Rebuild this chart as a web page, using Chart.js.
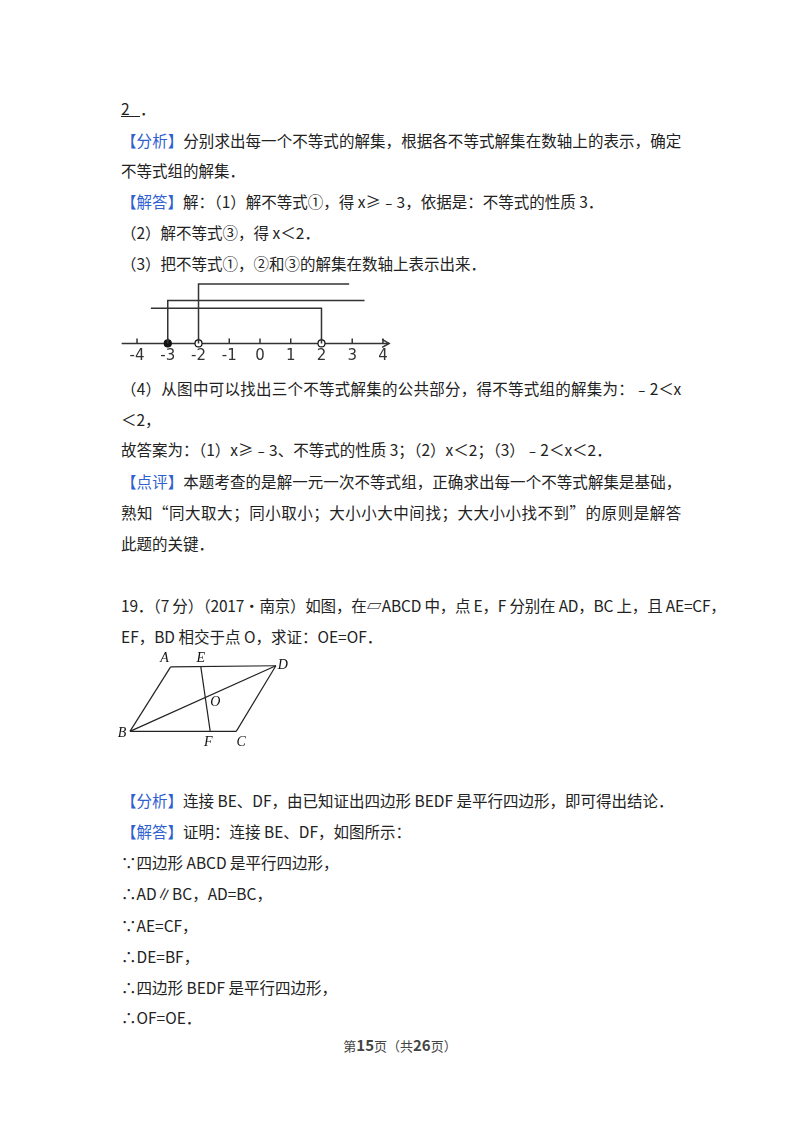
<!DOCTYPE html>
<html>
<head>
<meta charset="utf-8">
<script src="https://cdn.jsdelivr.net/npm/chart.js@4"></script>
<style>
  body { margin: 0; background: #fff; width: 800px; height: 1132px; position: relative;
         font-family: "Noto Sans CJK SC", "Noto Sans", sans-serif; color: #222; }
  .ln { position: absolute; left: 121px; font-size: 15.5px; line-height: 22px; white-space: nowrap; }
  .full { width: 560px; text-align: justify; text-align-last: justify; letter-spacing: -0.2px; }
  .tag { color: #2f5fd0; }
  .foot { position: absolute; top: 1034px; left: 0; width: 800px; text-align: center; font-size: 13px; color: #444; }
  .foot b { font-size: 15px; }
  #numline { position: absolute; left: 106px; top: 266px; }
  #geo { position: absolute; left: 106px; top: 641px; }
</style>
</head>
<body>
<div class="ln" style="top:97px"><u>2&nbsp;&nbsp;&nbsp;</u>．</div>
<div class="ln full" style="top:129px"><span class="tag">【分析】</span>分别求出每一个不等式的解集，根据各不等式解集在数轴上的表示，确定</div>
<div class="ln" style="top:159px">不等式组的解集．</div>
<div class="ln" style="top:190px"><span class="tag">【解答】</span>解：（1）解不等式①，得 x≥﹣3，依据是：不等式的性质 3．</div>
<div class="ln" style="top:221px">（2）解不等式③，得 x＜2．</div>
<div class="ln" style="top:252px">（3）把不等式①，②和③的解集在数轴上表示出来．</div>
<div class="ln full" style="top:377px">（4）从图中可以找出三个不等式解集的公共部分，得不等式组的解集为：﹣2＜x</div>
<div class="ln" style="top:408px">＜2，</div>
<div class="ln" style="top:438px">故答案为：（1）x≥﹣3、不等式的性质 3；（2）x＜2；（3）﹣2＜x＜2．</div>
<div class="ln full" style="top:470px"><span class="tag">【点评】</span>本题考查的是解一元一次不等式组，正确求出每一个不等式解集是基础，</div>
<div class="ln full" style="top:501px">熟知“同大取大；同小取小；大小小大中间找；大大小小找不到”的原则是解答</div>
<div class="ln" style="top:532px">此题的关键．</div>
<div class="ln full" style="top:594px">19．（7 分）（2017•南京）如图，在▱ABCD 中，点 E，F 分别在 AD，BC 上，且 AE=CF，</div>
<div class="ln" style="top:625px">EF，BD 相交于点 O，求证：OE=OF．</div>
<div class="ln" style="top:789px"><span class="tag">【分析】</span>连接 BE、DF，由已知证出四边形 BEDF 是平行四边形，即可得出结论．</div>
<div class="ln" style="top:820px"><span class="tag">【解答】</span>证明：连接 BE、DF，如图所示：</div>
<div class="ln" style="top:851px">∵四边形 ABCD 是平行四边形，</div>
<div class="ln" style="top:882px">∴AD∥BC，AD=BC，</div>
<div class="ln" style="top:914px">∵AE=CF，</div>
<div class="ln" style="top:945px">∴DE=BF，</div>
<div class="ln" style="top:976px">∴四边形 BEDF 是平行四边形，</div>
<div class="ln" style="top:1006px">∴OF=OE．</div>
<div class="foot">第<b>15</b>页（共<b>26</b>页）</div>

<div id="numline" style="width:308px;height:108px"><canvas id="c1"></canvas></div>
<div id="geo" style="width:198px;height:113px"><canvas id="c2"></canvas></div>

<script>
// number line data
const tickValues = [-4, -3, -2, -1, 0, 1, 2, 3, 4];
const boundaries = [-3, -2, 2];
const closedEnds = [true, false, false];
const lineHeights = [44, 61, 36];
const lineEnds = [3.4, 2.9, -3.55];
const axisRange = [-4.5, 4.2];

// parallelogram data (x right, y down)
const pointNames = ["A", "E", "D", "B", "F", "C"];
const pointX = [62, 91, 163, 23, 100, 125];
const pointY = [24, 24, 23, 84, 84, 84];
const segments = [["A", "D"], ["D", "C"], ["C", "B"], ["B", "A"], ["B", "D"], ["E", "F"]];

const ink = "#333";

const numDatasets = boundaries.map((b, i) => ({
  data: [{ x: b, y: 0 }, { x: b, y: lineHeights[i] }, { x: lineEnds[i], y: lineHeights[i] }],
  showLine: true, borderColor: ink, borderWidth: 1.5, pointRadius: 0,
}));
numDatasets.push({
  data: boundaries.map((b) => ({ x: b, y: 0 })),
  showLine: false, pointRadius: 3.5, borderWidth: 1.2, borderColor: "#111",
  pointBackgroundColor: closedEnds.map((c) => (c ? "#111" : "#fff")),
});

const axisPlugin = {
  id: "axis",
  beforeDatasetsDraw(chart) {
    const { ctx, scales: { x, y } } = chart;
    const y0 = y.getPixelForValue(0);
    const x0 = x.getPixelForValue(axisRange[0]);
    const x1 = x.getPixelForValue(axisRange[1]);
    ctx.save();
    ctx.strokeStyle = ink; ctx.fillStyle = ink; ctx.lineWidth = 1.5;
    ctx.beginPath(); ctx.moveTo(x0, y0); ctx.lineTo(x1, y0); ctx.stroke();
    ctx.beginPath(); ctx.moveTo(x1 - 7, y0 - 4); ctx.lineTo(x1, y0); ctx.lineTo(x1 - 7, y0 + 4); ctx.stroke();
    ctx.font = "15px 'DejaVu Sans', sans-serif";
    ctx.textAlign = "center"; ctx.textBaseline = "top";
    tickValues.forEach((t) => {
      const px = x.getPixelForValue(t);
      ctx.beginPath(); ctx.moveTo(px, y0); ctx.lineTo(px, y0 - 5); ctx.stroke();
      ctx.fillText(String(t), px, y0 + 5);
    });
    ctx.restore();
  },
};

new Chart(document.getElementById("c1"), {
  type: "scatter",
  data: { datasets: numDatasets },
  options: {
    responsive: true, maintainAspectRatio: false, animation: false,
    layout: { padding: 0 },
    plugins: { legend: { display: false }, tooltip: { enabled: false } },
    scales: {
      x: { type: "linear", display: false, min: -4.84, max: 4.84 },
      y: { type: "linear", display: false, min: -26, max: 74 },
    },
  },
  plugins: [axisPlugin],
});

const pt = (n) => {
  const i = pointNames.indexOf(n);
  return { x: pointX[i], y: pointY[i] };
};
// O = intersection of BD and EF
function intersect(p1, p2, p3, p4) {
  const d = (p1.x - p2.x) * (p3.y - p4.y) - (p1.y - p2.y) * (p3.x - p4.x);
  const a = p1.x * p2.y - p1.y * p2.x, b = p3.x * p4.y - p3.y * p4.x;
  return { x: (a * (p3.x - p4.x) - (p1.x - p2.x) * b) / d, y: (a * (p3.y - p4.y) - (p1.y - p2.y) * b) / d };
}
const O = intersect(pt("B"), pt("D"), pt("E"), pt("F"));

const labelOffsets = { A: [-6, -9], E: [0, -9], D: [7, 0], B: [-8, 2], F: [-2, 11], C: [5, 11] };
const labelPlugin = {
  id: "labels",
  afterDatasetsDraw(chart) {
    const { ctx, scales: { x, y } } = chart;
    ctx.save();
    ctx.fillStyle = "#111";
    ctx.font = "italic 14px 'Liberation Serif', serif";
    ctx.textAlign = "center"; ctx.textBaseline = "middle";
    pointNames.forEach((n) => {
      const p = pt(n), o = labelOffsets[n];
      ctx.fillText(n, x.getPixelForValue(p.x) + o[0], y.getPixelForValue(p.y) + o[1]);
    });
    ctx.fillText("O", x.getPixelForValue(O.x) + 10, y.getPixelForValue(O.y) + 5);
    ctx.restore();
  },
};

new Chart(document.getElementById("c2"), {
  type: "scatter",
  data: {
    datasets: segments.map(([a, b]) => ({
      data: [pt(a), pt(b)], showLine: true, borderColor: "#222", borderWidth: 1.2, pointRadius: 0,
    })),
  },
  options: {
    responsive: true, maintainAspectRatio: false, animation: false,
    layout: { padding: 0 },
    plugins: { legend: { display: false }, tooltip: { enabled: false } },
    scales: {
      x: { type: "linear", display: false, min: 0, max: 190 },
      y: { type: "linear", display: false, min: 0, max: 105, reverse: true },
    },
  },
  plugins: [labelPlugin],
});
</script>
</body>
</html>
